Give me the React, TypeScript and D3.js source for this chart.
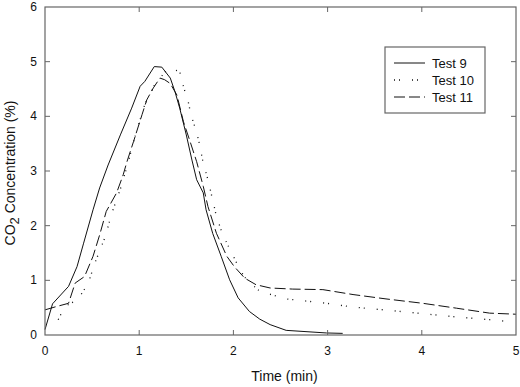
import * as d3 from "d3";
import React, { useEffect, useRef } from "react";

// CO2 readings, time in minutes
const test9T = [0, 0.08, 0.25, 0.34, 0.41, 0.51, 0.58, 0.67, 0.8, 0.92, 1.01, 1.06, 1.16, 1.24, 1.33, 1.38, 1.43, 1.5, 1.56, 1.61, 1.68, 1.71, 1.78, 1.87, 1.96, 2.05, 2.17, 2.28, 2.39, 2.56, 2.99, 3.16];
const test9C = [0.1, 0.57, 0.89, 1.25, 1.68, 2.29, 2.69, 3.11, 3.66, 4.15, 4.55, 4.64, 4.91, 4.9, 4.7, 4.45, 4.15, 3.66, 3.2, 2.84, 2.6, 2.29, 1.86, 1.44, 1.01, 0.68, 0.43, 0.29, 0.19, 0.085, 0.037, 0.03];

const test10T = [0.14, 0.21, 0.35, 0.46, 0.53, 0.64, 0.71, 0.81, 0.88, 0.97, 1.06, 1.17, 1.31, 1.43, 1.47, 1.52, 1.55, 1.59, 1.63, 1.68, 1.73, 1.78, 1.82, 1.87, 1.93, 2.0, 2.07, 2.14, 2.28, 2.56, 2.99, 3.27, 3.66, 4.01, 4.37, 4.72, 4.9];
const test10C = [0.28, 0.52, 0.65, 0.95, 1.32, 1.8, 2.23, 2.72, 3.14, 3.72, 4.22, 4.6, 4.88, 4.82, 4.54, 4.27, 4.03, 3.81, 3.57, 3.14, 2.84, 2.47, 2.17, 1.92, 1.68, 1.44, 1.19, 1.01, 0.8, 0.66, 0.58, 0.51, 0.45, 0.39, 0.33, 0.28, 0.25];

const test11T = [0, 0.12, 0.25, 0.32, 0.42, 0.51, 0.58, 0.65, 0.76, 0.83, 0.87, 0.94, 1.03, 1.08, 1.15, 1.22, 1.27, 1.33, 1.4, 1.47, 1.54, 1.61, 1.68, 1.73, 1.82, 1.93, 2.01, 2.12, 2.24, 2.39, 2.63, 2.95, 3.27, 3.62, 4.01, 4.37, 4.72, 5.0];
const test11C = [0.46, 0.52, 0.58, 0.95, 1.07, 1.44, 1.83, 2.26, 2.6, 2.93, 3.17, 3.54, 4.03, 4.3, 4.52, 4.7, 4.67, 4.6, 4.39, 3.9, 3.54, 3.17, 2.72, 2.35, 1.86, 1.44, 1.25, 1.04, 0.92, 0.86, 0.84, 0.83, 0.74, 0.66, 0.58, 0.49, 0.4, 0.38];

const seriesNames = ["Test 9", "Test 10", "Test 11"];
const xTicks = [0, 1, 2, 3, 4, 5];
const yTicks = [0, 1, 2, 3, 4, 5, 6];

const W = 520;
const H = 387;
const margin = { top: 7, right: 4, bottom: 52, left: 45 };
const dashes = ["none", "1,4,1,12", "11,4"];
const font = "'Liberation Sans', Arial, sans-serif";
const axisColor = "#666";

export default function App() {
  const ref = useRef<SVGSVGElement>(null);

  useEffect(() => {
    const svg = d3.select(ref.current);
    svg.selectAll("*").remove();

    const iw = W - margin.left - margin.right;
    const ih = H - margin.top - margin.bottom;
    const g = svg.append("g").attr("transform", `translate(${margin.left},${margin.top})`);

    const x = d3.scaleLinear().domain([0, 5]).range([0, iw]);
    const y = d3.scaleLinear().domain([0, 6]).range([ih, 0]);

    const series = [
      test9T.map((t, i) => [t, test9C[i]]),
      test10T.map((t, i) => [t, test10C[i]]),
      test11T.map((t, i) => [t, test11C[i]]),
    ] as [number, number][][];

    const line = d3.line<[number, number]>().x(d => x(d[0])).y(d => y(d[1]));

    series.forEach((s, i) => {
      g.append("path")
        .datum(s)
        .attr("fill", "none")
        .attr("stroke", "#111")
        .attr("stroke-width", i === 1 ? 1.3 : 1)
        .attr("stroke-dasharray", dashes[i])
        .attr("d", line);
    });

    // frame with inward ticks on all four sides
    g.append("rect")
      .attr("width", iw).attr("height", ih)
      .attr("fill", "none").attr("stroke", axisColor).attr("stroke-width", 1.2);

    const tl = 5;
    xTicks.slice(1, -1).forEach(t => {
      g.append("line").attr("x1", x(t)).attr("x2", x(t)).attr("y1", ih).attr("y2", ih - tl).attr("stroke", axisColor);
      g.append("line").attr("x1", x(t)).attr("x2", x(t)).attr("y1", 0).attr("y2", tl).attr("stroke", axisColor);
    });
    yTicks.slice(1, -1).forEach(t => {
      g.append("line").attr("x1", 0).attr("x2", tl).attr("y1", y(t)).attr("y2", y(t)).attr("stroke", axisColor);
      g.append("line").attr("x1", iw).attr("x2", iw - tl).attr("y1", y(t)).attr("y2", y(t)).attr("stroke", axisColor);
    });

    g.selectAll(".xl").data(xTicks).enter().append("text")
      .attr("x", d => x(d)).attr("y", ih + 20)
      .attr("text-anchor", "middle")
      .attr("font-family", font).attr("font-size", 12).attr("fill", "#111")
      .text(d => d);

    g.selectAll(".yl").data(yTicks).enter().append("text")
      .attr("x", -8).attr("y", d => y(d) + 4)
      .attr("text-anchor", "end")
      .attr("font-family", font).attr("font-size", 12).attr("fill", "#111")
      .text(d => d);

    g.append("text")
      .attr("x", iw / 2 + 4).attr("y", ih + 46)
      .attr("text-anchor", "middle")
      .attr("font-family", font).attr("font-size", 14).attr("fill", "#111")
      .text("Time (min)");

    const yl = g.append("text")
      .attr("transform", `translate(${-30},${ih / 2 + 2}) rotate(-90)`)
      .attr("text-anchor", "middle")
      .attr("font-family", font).attr("font-size", 14).attr("fill", "#111");
    yl.append("tspan").text("CO");
    yl.append("tspan").attr("dy", 4).attr("font-size", 13).text("2");
    yl.append("tspan").attr("dy", -4).text(" Concentration (%)");

    // legend
    const lg = svg.append("g").attr("transform", "translate(385,47)");
    lg.append("rect").attr("width", 100).attr("height", 66)
      .attr("fill", "white").attr("stroke", axisColor).attr("stroke-width", 1.2);
    seriesNames.forEach((n, i) => {
      const yy = 16 + i * 17;
      lg.append("line").attr("x1", 9).attr("x2", 40).attr("y1", yy).attr("y2", yy)
        .attr("stroke", "#111").attr("stroke-width", i === 1 ? 1.3 : 1)
        .attr("stroke-dasharray", dashes[i]);
      lg.append("text").attr("x", 47).attr("y", yy + 4.5)
        .attr("font-family", font).attr("font-size", 13).attr("fill", "#111")
        .text(n);
    });
  }, []);

  return <svg ref={ref} width={W} height={H} style={{ position: "absolute", left: 0, top: 0 }} />;
}
